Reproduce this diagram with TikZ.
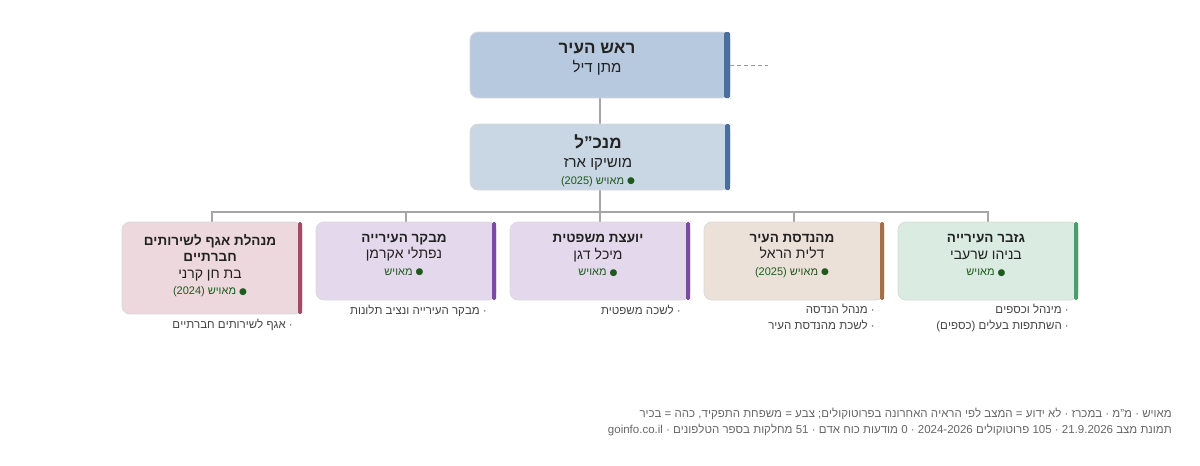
\documentclass[tikz,border=0pt]{standalone}
\usepackage{fontspec}
\setmainfont{Liberation Sans}
\newfontfamily\dvs{DejaVu Sans}
\TeXXeTstate=1
\newcommand{\rtl}[1]{\beginR #1\endR}
\newcommand{\ltr}[1]{\beginL #1\endL}
\definecolor{mayorF}{HTML}{B7C9DE}
\definecolor{mgrF}{HTML}{C9D6E3}
\definecolor{blueB}{HTML}{4A6F9C}
\definecolor{pinkF}{HTML}{EDD8DE}
\definecolor{pinkB}{HTML}{A44A62}
\definecolor{purF}{HTML}{E4D9EC}
\definecolor{purB}{HTML}{7B4AA3}
\definecolor{brF}{HTML}{EBE1D9}
\definecolor{brB}{HTML}{A0714A}
\definecolor{grF}{HTML}{DAEBE1}
\definecolor{grB}{HTML}{4A9E6C}
\definecolor{okG}{HTML}{1E5A1E}
\definecolor{txt}{HTML}{222222}
\definecolor{note}{HTML}{444444}
\newcommand{\st}[1]{{\color{okG}\fontsize{11}{13}\selectfont\rtl{{\dvs\fontsize{9}{12}\selectfont\raisebox{0.5pt}{●}} #1}}}
\newcommand{\ti}[1]{{\bfseries\fontsize{13.5}{16}\selectfont\rtl{#1}}}
\newcommand{\nm}[1]{{\fontsize{14}{17}\selectfont\rtl{#1}}}
\begin{document}
\begin{tikzpicture}[x=1pt,y=-1pt,
  box/.style={draw=black!15,line width=0.8pt,rounded corners=8pt},
  conn/.style={draw=black!35,line width=1.2pt},
  tt/.style={text=txt,align=center,anchor=base,inner sep=0pt,font=\fontsize{13}{16.5}\selectfont},
  tb/.style={tt,font=\fontsize{15}{19}\selectfont},
  nt/.style={anchor=base east,inner sep=0pt,text=note,font=\fontsize{11.5}{15.5}\selectfont,align=right}]
\useasboundingbox (0,0) rectangle (1200,466);
% connectors
\coordinate (m1) at (600,98);
\coordinate (m2) at (600,124);
\coordinate (g1) at (600,190);
\coordinate (bus) at (600,212);
\draw[conn] (m1) -- (m2);
\draw[conn] (g1) -- (bus);
\draw[conn] (212,222) -- (212,212) -- (988,212) -- (988,222);
\foreach \x in {406,600,794} \draw[conn] (\x,212) -- (\x,222);
\coordinate (d1) at (730,65); \coordinate (d2) at (768,65);
\draw[black!40,line width=1pt,dash pattern=on 4pt off 3pt] (d1) -- (d2);
% mayor
\path[box,fill=mayorF] (470,32) rectangle (730,98);
\fill[blueB,rounded corners=1.5pt] (724,32) rectangle (730,98);
\node[tb,anchor=north] (mayor) at (597,43) {{\bfseries\fontsize{17}{20}\selectfont\rtl{ראש העיר}}\\{\fontsize{15}{18}\selectfont\rtl{מתן דיל}}};
% manager
\path[box,fill=mgrF] (470,124) rectangle (730,190);
\fill[blueB,rounded corners=1.5pt] (725,124) rectangle (730,190);
\node[tb,anchor=north] (mgr) at (598,134) {{\bfseries\fontsize{17}{20}\selectfont\rtl{מנכ"ל}}\\{\fontsize{15}{18}\selectfont\rtl{מושיקו ארז}}\\[-2pt]\st{מאויש \ltr{(2025)}}};
% bottom boxes
\path[box,fill=pinkF] (122,222) rectangle (302,314);
\fill[pinkB,rounded corners=1.5pt] (298,222) rectangle (302,314);
\node[tt,anchor=north] (b1) at (210,234) {\ti{מנהלת אגף לשירותים}\\\ti{חברתיים}\\\nm{בת חן קרני}\\\st{מאויש \ltr{(2024)}}};
\node[nt] (n1) at (293,328) {\rtl{· אגף לשירותים חברתיים}};

\path[box,fill=purF] (316,222) rectangle (496,300);
\fill[purB,rounded corners=1.5pt] (492,222) rectangle (496,300);
\node[tt,anchor=north] (b2) at (404,234) {\ti{מבקר העירייה}\\\nm{נפתלי אקרמן}\\\st{מאויש}};
\node[nt] (n2) at (487,314) {\rtl{· מבקר העירייה ונציב תלונות}};

\path[box,fill=purF] (510,222) rectangle (690,300);
\fill[purB,rounded corners=1.5pt] (686,222) rectangle (690,300);
\node[tt,anchor=north] (b3) at (598,234) {\ti{יועצת משפטית}\\\nm{מיכל דגן}\\\st{מאויש}};
\node[nt] (n3) at (681,314) {\rtl{· לשכה משפטית}};

\path[box,fill=brF] (704,222) rectangle (884,300);
\fill[brB,rounded corners=1.5pt] (880,222) rectangle (884,300);
\node[tt,anchor=north] (b4) at (792,234) {\ti{מהנדסת העיר}\\\nm{דלית הראל}\\\st{מאויש \ltr{(2025)}}};
\node[nt,anchor=north east] (n4) at (875,304) {\rtl{· מנהל הנדסה}\\\rtl{· לשכת מהנדסת העיר}};

\path[box,fill=grF] (898,222) rectangle (1078,300);
\fill[grB,rounded corners=1.5pt] (1074,222) rectangle (1078,300);
\node[tt,anchor=north] (b5) at (986,234) {\ti{גזבר העירייה}\\\nm{בניהו שרעבי}\\\st{מאויש}};
\node[nt,anchor=north east] (n5) at (1069,304) {\rtl{· מינהל וכספים}\\\rtl{· השתתפות בעלים (כספים)}};
% footer
\node[anchor=north east,inner sep=0pt,text=black!60,font=\fontsize{11.5}{16}\selectfont,align=right] (foot) at (1172,408) {\rtl{מאויש · מ"מ · במכרז · לא ידוע = המצב לפי הראיה האחרונה בפרוטוקולים; צבע = משפחת התפקיד, כהה = בכיר}\\\rtl{תמונת מצב \ltr{21.9.2026} · \ltr{105} פרוטוקולים \ltr{2024-2026} · \ltr{0} מודעות כוח אדם · \ltr{51} מחלקות בספר הטלפונים · \ltr{goinfo.co.il}}};
\end{tikzpicture}
\end{document}
